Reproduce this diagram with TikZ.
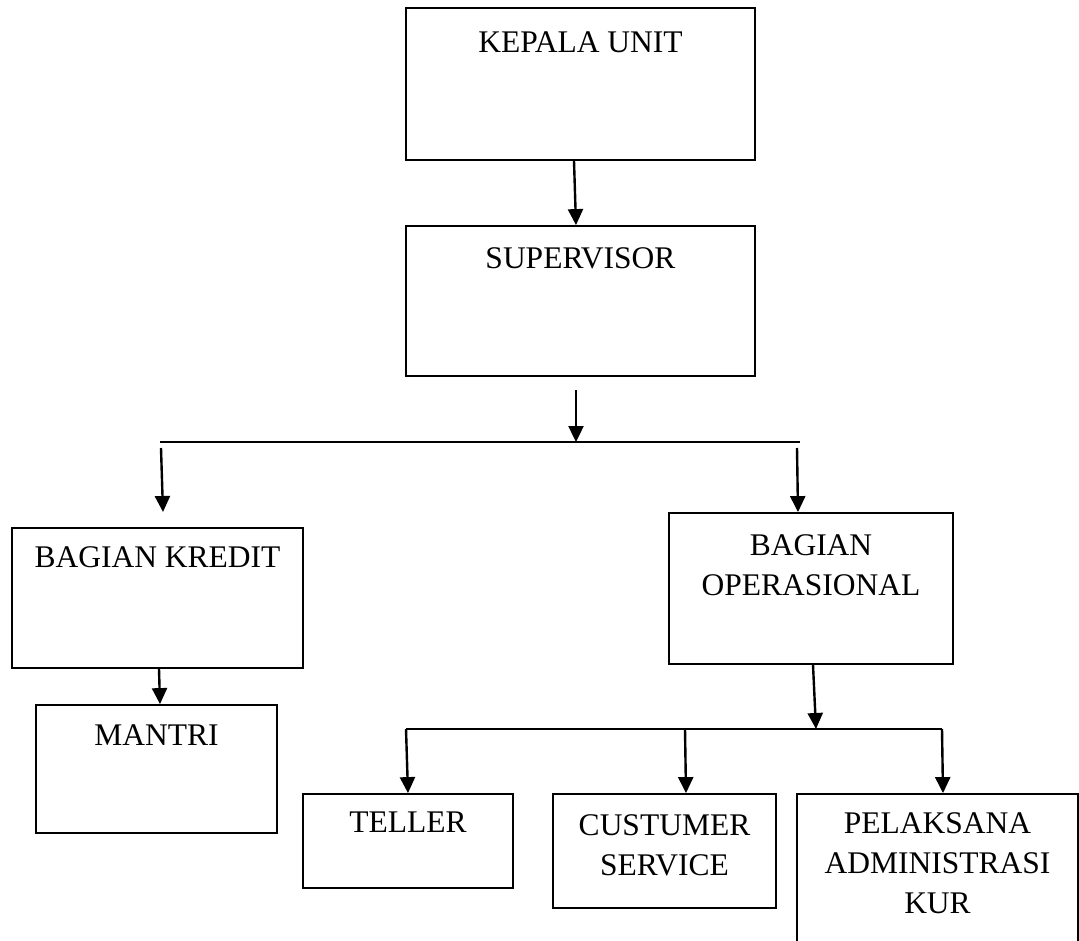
\documentclass[tikz,border=0pt]{standalone}
\usepackage{fontspec}
\setmainfont{Liberation Serif}
\usetikzlibrary{arrows.meta}
\begin{document}
\begin{tikzpicture}[x=1pt,y=-1pt,
  box/.style={draw,line width=1.8pt,inner sep=0pt,fill=none},
  lbl/.style={anchor=north,inner sep=0pt,align=center,font=\fontsize{31.5}{40}\selectfont},
  arr/.style={line width=2.4pt,-{Triangle[length=16pt,width=15pt]}},
  bus/.style={line width=2pt}]
\useasboundingbox (0,0) rectangle (1079,941);
\clip (0,0) rectangle (1079,941);
% boxes
\node[box,minimum width=349pt,minimum height=152pt] (ku) at (580.5,84) {};
\node[box,minimum width=349pt,minimum height=150pt] (sv) at (580.5,301) {};
\node[box,minimum width=291pt,minimum height=140pt] (kr) at (157.5,598) {};
\node[box,minimum width=284pt,minimum height=151pt] (op) at (811,588.5) {};
\node[box,minimum width=241pt,minimum height=128pt] (mt) at (156.5,769) {};
\node[box,minimum width=210pt,minimum height=94pt] (tl) at (408,841) {};
\node[box,minimum width=223pt,minimum height=114pt] (cs) at (664.5,851) {};
\node[box,minimum width=281pt,minimum height=180pt] (pk) at (937.5,884) {};
% labels
\node[lbl] (kut) at ([yshift=-24pt]ku.north) {KEPALA UNIT};
\node[lbl] (svt) at ([yshift=-22pt]sv.north) {SUPERVISOR};
\node[lbl] (krt) at ([yshift=-19pt]kr.north) {BAGIAN KREDIT};
\node[lbl] (opt) at ([yshift=-22pt]op.north) {BAGIAN\\OPERASIONAL};
\node[lbl] (mtt) at ([yshift=-20pt]mt.north) {MANTRI};
\node[lbl] (tlt) at ([yshift=-19pt]tl.north) {TELLER};
\node[lbl] (cst) at ([yshift=-21pt]cs.north) {CUSTUMER\\SERVICE};
\node[lbl] (pkt) at ([yshift=-19pt]pk.north) {PELAKSANA\\ADMINISTRASI\\KUR};
% bus coordinates
\coordinate (b1l) at (160,442);
\coordinate (b1m) at (576,442);
\coordinate (b1r) at (800,442);
\coordinate (s1) at (576,390);
\coordinate (l1s) at (161,448);
\coordinate (l1e) at (163,512);
\coordinate (r1s) at (797,448);
\coordinate (b2l) at (406,729);
\coordinate (b2m) at (816,729);
\coordinate (b2c) at (685,729);
\coordinate (b2r) at (942,729);
% connectors
\draw[arr] (ku.south -| 574,0) -- (sv.north -| 576,0);
\draw[arr] (s1) -- (b1m);
\draw[bus] (b1l) -- (b1r);
\draw[arr] (l1s) -- (l1e);
\draw[arr] (r1s) -- (op.north -| 798,0);
\draw[arr] (kr.south -| 159,0) -- (mt.north -| 160,0);
\draw[arr] (op.south -| 813,0) -- (b2m);
\draw[bus] (b2l) -- (b2r);
\draw[arr] (b2l) -- (tl.north -| 408,0);
\draw[arr] (b2c) -- (cs.north -| 686,0);
\draw[arr] (b2r) -- (pk.north -| 943,0);
\end{tikzpicture}
\end{document}
